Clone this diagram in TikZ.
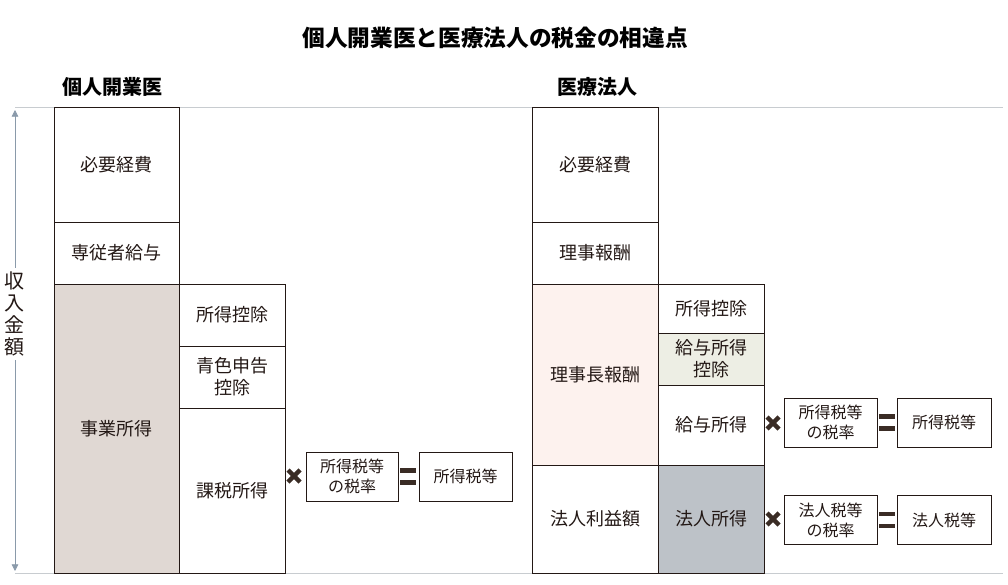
\documentclass[tikz,border=0pt]{standalone}
\usepackage{fontspec}
\newfontfamily\cjk{Noto Sans CJK JP}
\usetikzlibrary{arrows.meta}
\definecolor{ink}{HTML}{231815}
\definecolor{guide}{HTML}{C8CCD0}
\definecolor{axis}{HTML}{8A9AAA}
\definecolor{jigyo}{HTML}{E0D8D3}
\definecolor{richo}{HTML}{FDF2EE}
\definecolor{kyuyo}{HTML}{EDEEE4}
\definecolor{hojin}{HTML}{BDC2C8}
\definecolor{opc}{HTML}{3A2C25}
\tikzset{
  cell/.style={draw=ink, line width=0.75pt, inner sep=0pt, align=center, text=ink,
    font=\cjk\fontsize{13.5}{16.5}\selectfont},
  rate/.style={cell, minimum height=36.75pt, font=\cjk\fontsize{12}{15}\selectfont},
  heading/.style={font=\cjk\bfseries\fontsize{15}{18}\selectfont, text=black},
  timesop/.style={line width=3.2pt, draw=opc},
  eqop/.style={line width=3.2pt, draw=opc}
}
\begin{document}
\begin{tikzpicture}[x=0.75pt,y=-0.75pt]
\useasboundingbox (0,0) rectangle (1008,585);
% title and headings
\node[heading, font=\cjk\bfseries\fontsize{17}{20}\selectfont] (title) at (495,38) {個人開業医と医療法人の税金の相違点};
\node[heading] (hkojin) at (112,87) {個人開業医};
\node[heading] (hhojin) at (597,87) {医療法人};
% guide lines
\coordinate (gtl) at (15,108); \coordinate (gtr) at (1003,108);
\coordinate (gbl) at (15,573); \coordinate (gbr) at (1003,573);
\draw[guide, line width=0.75pt] (gtl) -- (gtr);
\draw[guide, line width=0.75pt] (gbl) -- (gbr);
% axis
\coordinate (atop) at (15,110); \coordinate (abot) at (15,571);
\draw[axis, line width=0.6pt, {Triangle[width=5pt,length=5pt]}-{Triangle[width=5pt,length=5pt]}] (atop) -- (abot);
\node[fill=white, inner xsep=1pt, inner ysep=3pt, align=center, text=ink, font=\cjk\fontsize{15}{16.5}\selectfont] (axlabel) at (15,314) {収\\入\\金\\額};
% left: 個人開業医
\node[cell, minimum width=93.75pt, minimum height=85.5pt] (k1) at (116.5,165) {必要経費};
\node[cell, minimum width=93.75pt, minimum height=46.5pt] (k2) at (116.5,253) {専従者給与};
\node[cell, fill=jigyo, minimum width=93.75pt, minimum height=216.75pt] (k3) at (116.5,428.5) {事業所得};
\node[cell, minimum width=79.5pt, minimum height=46.5pt] (k4) at (232,315) {所得控除};
\node[cell, minimum width=79.5pt, minimum height=46.5pt] (k5) at (232,377) {青色申告\\控除};
\node[cell, minimum width=79.5pt, minimum height=123.75pt] (k6) at (232,490.5) {課税所得};
\node[rate, minimum width=69pt] (krate) at (352,476.5) {所得税等\\の税率};
\node[rate, minimum width=69.75pt] (ktax) at (465.5,476.5) {所得税等};
% operators left
\draw[timesop] (288,470) -- (300,482);
\draw[timesop] (288,482) -- (300,470);
\draw[eqop] (400,470.5) -- (416,470.5);
\draw[eqop] (400,482.5) -- (416,482.5);
% right: 医療法人
\node[cell, minimum width=94.5pt, minimum height=85.5pt] (h1) at (595,165) {必要経費};
\node[cell, minimum width=94.5pt, minimum height=46.5pt] (h2) at (595,253) {理事報酬};
\node[cell, fill=richo, minimum width=94.5pt, minimum height=135.75pt] (h3) at (595,374.5) {理事長報酬};
\node[cell, minimum width=94.5pt, minimum height=81pt] (h4) at (595,519) {法人利益額};
\node[cell, minimum width=79.5pt, minimum height=36.75pt] (h5) at (711,308.5) {所得控除};
\node[cell, fill=kyuyo, minimum width=79.5pt, minimum height=39pt] (h6) at (711,359) {給与所得\\控除};
\node[cell, minimum width=79.5pt, minimum height=60pt] (h7) at (711,425) {給与所得};
\node[cell, fill=hojin, minimum width=79.5pt, minimum height=81pt] (h8) at (711,519) {法人所得};
\node[rate, minimum width=69.75pt] (hrate1) at (830.5,422.5) {所得税等\\の税率};
\node[rate, minimum width=70.5pt] (htax1) at (944,422.5) {所得税等};
\node[rate, minimum width=69.75pt] (hrate2) at (830.5,520) {法人税等\\の税率};
\node[rate, minimum width=70.5pt] (htax2) at (944,520) {法人税等};
% operators right
\draw[timesop] (767,417) -- (779,429);
\draw[timesop] (767,429) -- (779,417);
\draw[eqop] (879,416.5) -- (895,416.5);
\draw[eqop] (879,428.5) -- (895,428.5);
\draw[timesop] (767,513) -- (779,525);
\draw[timesop] (767,525) -- (779,513);
\draw[eqop] (879,514) -- (895,514);
\draw[eqop] (879,526) -- (895,526);
\end{tikzpicture}
\end{document}
